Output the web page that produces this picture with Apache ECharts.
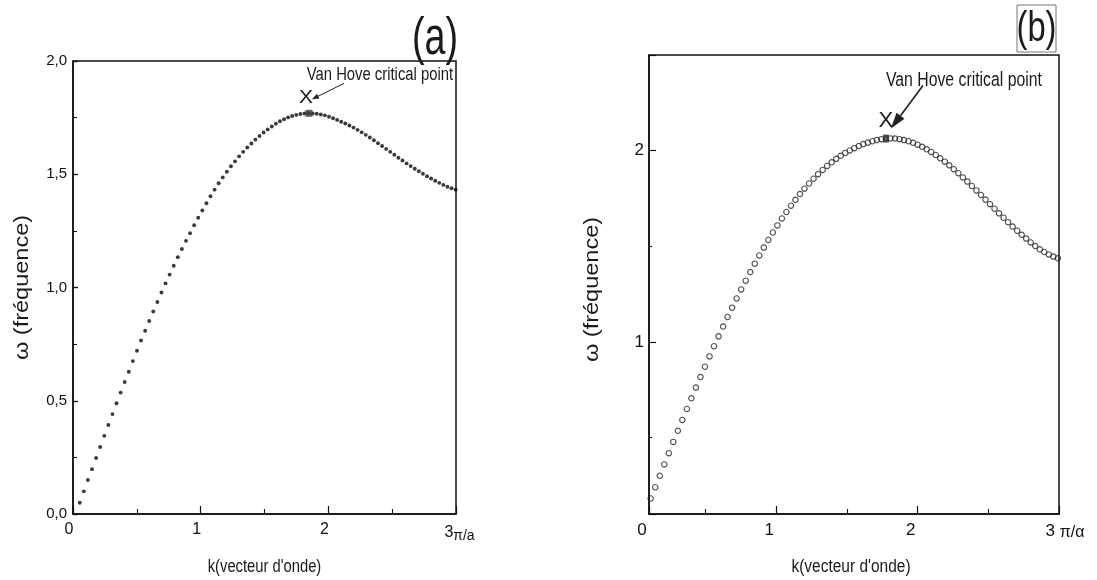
<!DOCTYPE html>
<html><head><meta charset="utf-8">
<script src="https://cdn.jsdelivr.net/npm/echarts@6/dist/echarts.min.js"></script>
<style>html,body{margin:0;padding:0;background:#fff}#c{width:1097px;height:580px}</style>
</head><body><div id="c"></div>
<script>
// ---- data ----
const kA = [0.053,0.085,0.117,0.149,0.181,0.213,0.245,0.277,0.309,0.341,
0.373,0.405,0.437,0.469,0.501,0.533,0.565,0.597,0.629,0.661,
0.693,0.725,0.757,0.789,0.821,0.853,0.885,0.917,0.949,0.981,
1.013,1.045,1.077,1.109,1.141,1.173,1.205,1.237,1.269,1.301,
1.333,1.365,1.397,1.429,1.461,1.493,1.525,1.557,1.589,1.621,
1.653,1.685,1.717,1.749,1.781,1.813,1.845,1.877,1.909,1.941,
1.973,2.005,2.037,2.069,2.101,2.133,2.165,2.197,2.229,2.261,
2.293,2.325,2.357,2.389,2.421,2.453,2.485,2.517,2.549,2.581,
2.613,2.645,2.677,2.709,2.741,2.773,2.805,2.837,2.869,2.901,
2.933,2.965,2.997];
const wA = [0.050,0.100,0.150,0.198,0.247,0.296,0.345,0.393,0.441,0.489,
0.536,0.583,0.628,0.675,0.721,0.766,0.809,0.852,0.894,0.936,
0.978,1.018,1.057,1.096,1.134,1.170,1.206,1.240,1.275,1.308,
1.340,1.372,1.403,1.432,1.460,1.486,1.511,1.535,1.557,1.579,
1.599,1.618,1.636,1.653,1.669,1.684,1.698,1.711,1.723,1.734,
1.743,1.751,1.757,1.762,1.766,1.768,1.769,1.768,1.767,1.764,
1.760,1.754,1.747,1.740,1.732,1.724,1.715,1.706,1.696,1.685,
1.674,1.662,1.650,1.637,1.625,1.612,1.599,1.586,1.573,1.561,
1.548,1.536,1.524,1.513,1.502,1.491,1.481,1.471,1.462,1.453,
1.445,1.438,1.432];
const peakA = [1.848, 1.769];

const kB = [0.112,0.144,0.176,0.208,0.240,0.272,0.304,0.336,0.368,0.400,
0.432,0.464,0.496,0.528,0.560,0.592,0.624,0.656,0.688,0.720,
0.752,0.784,0.816,0.848,0.880,0.912,0.944,0.976,1.008,1.040,
1.072,1.104,1.136,1.168,1.200,1.232,1.264,1.296,1.328,1.360,
1.392,1.424,1.456,1.488,1.520,1.552,1.584,1.616,1.648,1.680,
1.712,1.744,1.776,1.808,1.840,1.872,1.904,1.936,1.968,2.000,
2.032,2.064,2.096,2.128,2.160,2.192,2.224,2.256,2.288,2.320,
2.352,2.384,2.416,2.448,2.480,2.512,2.544,2.576,2.608,2.640,
2.672,2.704,2.736,2.768,2.800,2.832,2.864,2.896,2.928,2.960,
2.992];
const wB = [0.181,0.240,0.300,0.359,0.418,0.477,0.535,0.592,0.649,0.705,
0.761,0.816,0.870,0.924,0.977,1.029,1.080,1.130,1.179,1.227,
1.274,1.320,1.365,1.409,1.452,1.493,1.533,1.572,1.609,1.645,
1.679,1.712,1.743,1.773,1.801,1.828,1.853,1.877,1.899,1.920,
1.939,1.957,1.973,1.988,2.001,2.013,2.024,2.034,2.042,2.049,
2.055,2.060,2.063,2.064,2.063,2.060,2.055,2.049,2.041,2.031,
2.020,2.007,1.993,1.977,1.960,1.942,1.923,1.903,1.882,1.860,
1.838,1.815,1.792,1.768,1.744,1.720,1.696,1.672,1.649,1.626,
1.603,1.581,1.560,1.540,1.520,1.501,1.484,1.470,1.457,1.446,
1.437];
const peakB = [1.776, 2.063];

const xLabelsA = {0:'0', 1:'1', 2:'2', 3:'{n|3}{s|π/a}'};
const xLabelsB = {0.1:'0', 1:'1', 2:'2', 3:'{n|3} {s|π/α}'};
const yLabelsB = {1:'1', 2:'2'};
const panelA = '(a)', panelB = '(b)';
const annot = 'Van Hove critical point';
const xName = "k(vecteur d'onde)";
const yName = 'ω (fréquence)';

// ---- chart ----
const FONT = 'Liberation Sans, Arial, sans-serif';
const INK = '#111';
function lookup(map, v) {
  for (const key in map) if (Math.abs(parseFloat(key) - v) < 1e-6) return map[key];
  return '';
}
const lineStyle = {color: INK, width: 1.5};
const option = {
  animation: false,
  backgroundColor: '#fff',
  grid: [
    {left: 73, top: 61, width: 383, height: 453, show: true, borderColor: INK, borderWidth: 1.5, backgroundColor: 'transparent'},
    {left: 649, top: 55, width: 410, height: 459, show: true, borderColor: INK, borderWidth: 1.5, backgroundColor: 'transparent'}
  ],
  xAxis: [
    {gridIndex: 0, type: 'value', min: 0, max: 3, interval: 1,
     axisLine: {onZero: false, lineStyle},
     axisTick: {inside: true, length: 8, lineStyle: {color: INK, width: 1.2}},
     minorTick: {show: true, splitNumber: 2, length: 5, lineStyle: {color: INK, width: 1.1}},
     splitLine: {show: false}, minorSplitLine: {show: false},
     axisLabel: {margin: 8, color: INK, fontSize: 16, fontFamily: FONT, padding: [0, 8, 0, 0],
       formatter: v => lookup(xLabelsA, v),
       rich: {n: {fontSize: 16, fontFamily: FONT, color: INK, padding: [0, 0, 0, 15]},
              s: {fontSize: 14, fontFamily: FONT, color: INK, padding: [7, 0, 0, 0]}}}},
    {gridIndex: 1, type: 'value', min: 0.1, max: 3, splitNumber: 3,
     axisLine: {onZero: false, lineStyle},
     axisTick: {inside: true, length: 8, lineStyle: {color: INK, width: 1.2}},
     minorTick: {show: true, splitNumber: 2, length: 5, lineStyle: {color: INK, width: 1.1}},
     splitLine: {show: false}, minorSplitLine: {show: false},
     axisLabel: {margin: 8, color: INK, fontSize: 17, fontFamily: FONT, showMinLabel: true, padding: [0, 14, 0, 0],
       formatter: v => lookup(xLabelsB, v),
       rich: {n: {fontSize: 17, fontFamily: FONT, color: INK, padding: [0, 0, 0, 26]},
              s: {fontSize: 16, fontFamily: FONT, color: INK, padding: [3, 0, 0, 0]}}}}
  ],
  yAxis: [
    {gridIndex: 0, type: 'value', min: 0, max: 2, interval: 0.5,
     axisLine: {onZero: false, lineStyle},
     axisTick: {inside: true, length: 5, lineStyle: {color: INK, width: 1.2}},
     minorTick: {show: true, splitNumber: 2, length: 4, lineStyle: {color: INK, width: 1.1}},
     splitLine: {show: false}, minorSplitLine: {show: false},
     axisLabel: {margin: 6, color: INK, fontSize: 15, fontFamily: FONT,
       formatter: v => v.toFixed(1).replace('.', ',')}},
    {gridIndex: 0, type: 'value', min: 0, max: 2, interval: 0.5,
     axisLine: {show: false},
     axisTick: {inside: false, length: 4, lineStyle: {color: INK, width: 1.2}},
     splitLine: {show: false}, axisLabel: {show: false}},
    {gridIndex: 1, type: 'value', min: 0.1, max: 2.5, splitNumber: 2,
     axisLine: {onZero: false, lineStyle},
     axisTick: {inside: true, length: 7, lineStyle: {color: INK, width: 1.2}},
     minorTick: {show: true, splitNumber: 2, length: 3, lineStyle: {color: INK, width: 1.1}},
     splitLine: {show: false}, minorSplitLine: {show: false},
     axisLabel: {margin: 5, color: INK, fontSize: 17, fontFamily: FONT,
       formatter: v => lookup(yLabelsB, v)}}
  ],
  series: [
    {type: 'scatter', xAxisIndex: 0, yAxisIndex: 0, symbol: 'circle', symbolSize: 3.9,
     itemStyle: {color: '#0a0a0a'}, data: kA.map((k, i) => [k, wA[i]])},
    {type: 'scatter', xAxisIndex: 0, yAxisIndex: 0, symbol: 'rect', symbolSize: [7, 7], z: 5,
     itemStyle: {color: '#3c3c3c'}, data: [peakA]},
    {type: 'scatter', xAxisIndex: 1, yAxisIndex: 2, symbol: 'circle', symbolSize: 5.4,
     itemStyle: {color: 'rgba(255,255,255,0)', borderColor: '#222', borderWidth: 1.1}, data: kB.map((k, i) => [k, wB[i]])},
    {type: 'scatter', xAxisIndex: 1, yAxisIndex: 2, symbol: 'rect', symbolSize: [6, 8], z: 5,
     itemStyle: {color: '#333'}, data: [peakB]}
  ]
};
const chart = echarts.init(document.getElementById('c'));
chart.setOption(option);

function arrow(from, to, width, headLen, headHalf) {
  const dx = to[0] - from[0], dy = to[1] - from[1];
  const L = Math.hypot(dx, dy), ux = dx / L, uy = dy / L, nx = -uy, ny = ux;
  const bx = to[0] - ux * headLen, by = to[1] - uy * headLen;
  return [
    {type: 'line', shape: {x1: from[0], y1: from[1], x2: bx, y2: by}, style: {stroke: '#222', lineWidth: width}},
    {type: 'polygon', shape: {points: [to, [bx + nx * headHalf, by + ny * headHalf], [bx - nx * headHalf, by - ny * headHalf]]}, style: {fill: '#222'}}
  ];
}
function txt(x, y, text, size, sx, extra) {
  return Object.assign({type: 'text', x, y, scaleX: sx, scaleY: 1,
    style: {text, fill: '#1a1a1a', font: size + 'px ' + FONT, align: 'center', verticalAlign: 'middle'}}, extra || {});
}
const pA = chart.convertToPixel({gridIndex: 0}, peakA);
const pB = chart.convertToPixel({gridIndex: 1}, peakB);
const gA = option.grid[0], gB = option.grid[1];
const graphic = [
  txt(435, 40, panelA, 51, 0.74),
  {type: 'rect', shape: {x: 1017, y: 5, width: 39, height: 47}, style: {fill: 'none', stroke: '#777', lineWidth: 1}},
  txt(1036.5, 29, panelB, 42, 0.78),
  txt(pA[0] - 3, pA[1] - 16, 'X', 19, 1.1),
  txt(pA[0] + 71, pA[1] - 38.5, annot, 19, 0.78),
  ...arrow([pA[0] + 35, pA[1] - 30], [pA[0] + 3, pA[1] - 14], 1, 7, 2.6),
  txt(pB[0], pB[1] - 17.5, 'X', 22, 1.0),
  txt(pB[0] + 78, pB[1] - 58, annot, 20, 0.79),
  ...arrow([pB[0] + 37, pB[1] - 53], [pB[0] + 5, pB[1] - 10], 1.6, 16, 5),
  txt(gA.left + gA.width / 2, 567, xName, 18, 0.82),
  txt(gB.left + gB.width / 2 - 3, 567, xName, 18, 0.86),
  txt(22, gA.top + gA.height / 2, yName, 21, 1.12, {rotation: Math.PI / 2}),
  txt(592, gB.top + gB.height / 2 + 5, yName, 21, 1.12, {rotation: Math.PI / 2})
];
chart.setOption({graphic});
</script>
</body></html>
